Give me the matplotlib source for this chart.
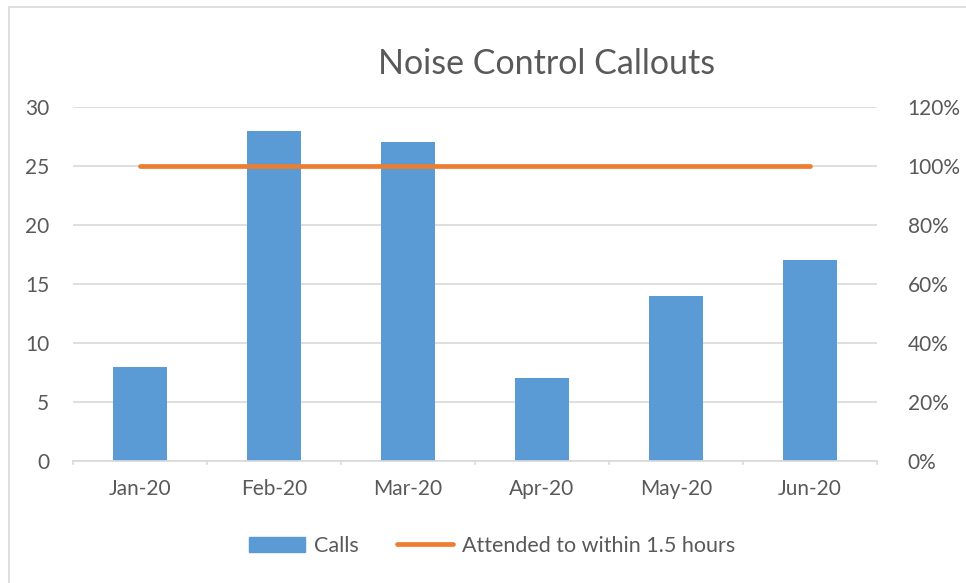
import matplotlib.pyplot as plt
from matplotlib.ticker import PercentFormatter
from matplotlib.lines import Line2D
from matplotlib.patches import Patch

plt.rcParams['font.family'] = ['Lato', 'DejaVu Sans']

months = ['Jan-20', 'Feb-20', 'Mar-20', 'Apr-20', 'May-20', 'Jun-20']
calls = [8, 28, 27, 7, 14, 17]
attended = [1.0, 1.0, 1.0, 1.0, 1.0, 1.0]

bar_color = '#5b9bd5'
line_color = '#ed7d31'
text_color = '#595959'
grid_color = '#d9d9d9'

fig = plt.figure(figsize=(9.66, 5.83), dpi=100)
# chart frame
fig.patches.append(plt.Rectangle((9 / 966, -0.05), 1.1, 1 - 7 / 583 + 0.05,
                                 transform=fig.transFigure, fill=False,
                                 edgecolor=grid_color, linewidth=1.2))

ax = fig.add_axes([73 / 966, 1 - 461 / 583, (877 - 73) / 966, (461 - 107) / 583])
x = list(range(len(months)))
ax.bar(x, calls, width=0.4, color=bar_color, zorder=2)
ax.set_xlim(-0.5, len(months) - 0.5)
ax.set_ylim(0, 30)
ax.set_yticks(range(0, 31, 5))
ax.set_xticks(x)
ax.set_xticklabels(months)
ax.yaxis.grid(True, color=grid_color, linewidth=1.2, zorder=0)
ax.set_axisbelow(True)
for s in ['top', 'right', 'left']:
    ax.spines[s].set_visible(False)
ax.spines['bottom'].set_color(grid_color)
ax.spines['bottom'].set_linewidth(1.2)
ax.tick_params(axis='y', length=0, pad=17, labelsize=15, labelcolor=text_color)
ax.tick_params(axis='x', length=0, pad=13, labelsize=15, labelcolor=text_color)
# category separator ticks
for b in range(len(months) + 1):
    ax.plot([b - 0.5, b - 0.5], [0, -0.25], color=grid_color, lw=1.2,
            clip_on=False, transform=ax.transData, zorder=1)

ax2 = ax.twinx()
ax2.plot(x, attended, color=line_color, linewidth=3.4, solid_capstyle='round', zorder=3)
ax2.set_ylim(0, 1.2)
ax2.set_yticks([0, 0.2, 0.4, 0.6, 0.8, 1.0, 1.2])
ax2.yaxis.set_major_formatter(PercentFormatter(1.0, decimals=0))
for s in ['top', 'right', 'left', 'bottom']:
    ax2.spines[s].set_visible(False)
ax2.tick_params(axis='y', length=0, pad=22, labelsize=15, labelcolor=text_color)

fig.text(547 / 966, 1 - 64 / 583, 'Noise Control Callouts', ha='center', va='center',
         fontsize=24.5, color=text_color)

handles = [Patch(color=bar_color, label='Calls'),
           Line2D([0], [0], color=line_color, lw=3.4, solid_capstyle='round',
                  label='Attended to within 1.5 hours')]
fig.legend(handles=handles, loc='center', bbox_to_anchor=(492 / 966, 1 - 546 / 583),
           ncol=2, frameon=False, fontsize=15.5, labelcolor=text_color,
           handlelength=2.6, handletextpad=0.4, columnspacing=1.8)

fig.savefig('out.png', dpi=100)
